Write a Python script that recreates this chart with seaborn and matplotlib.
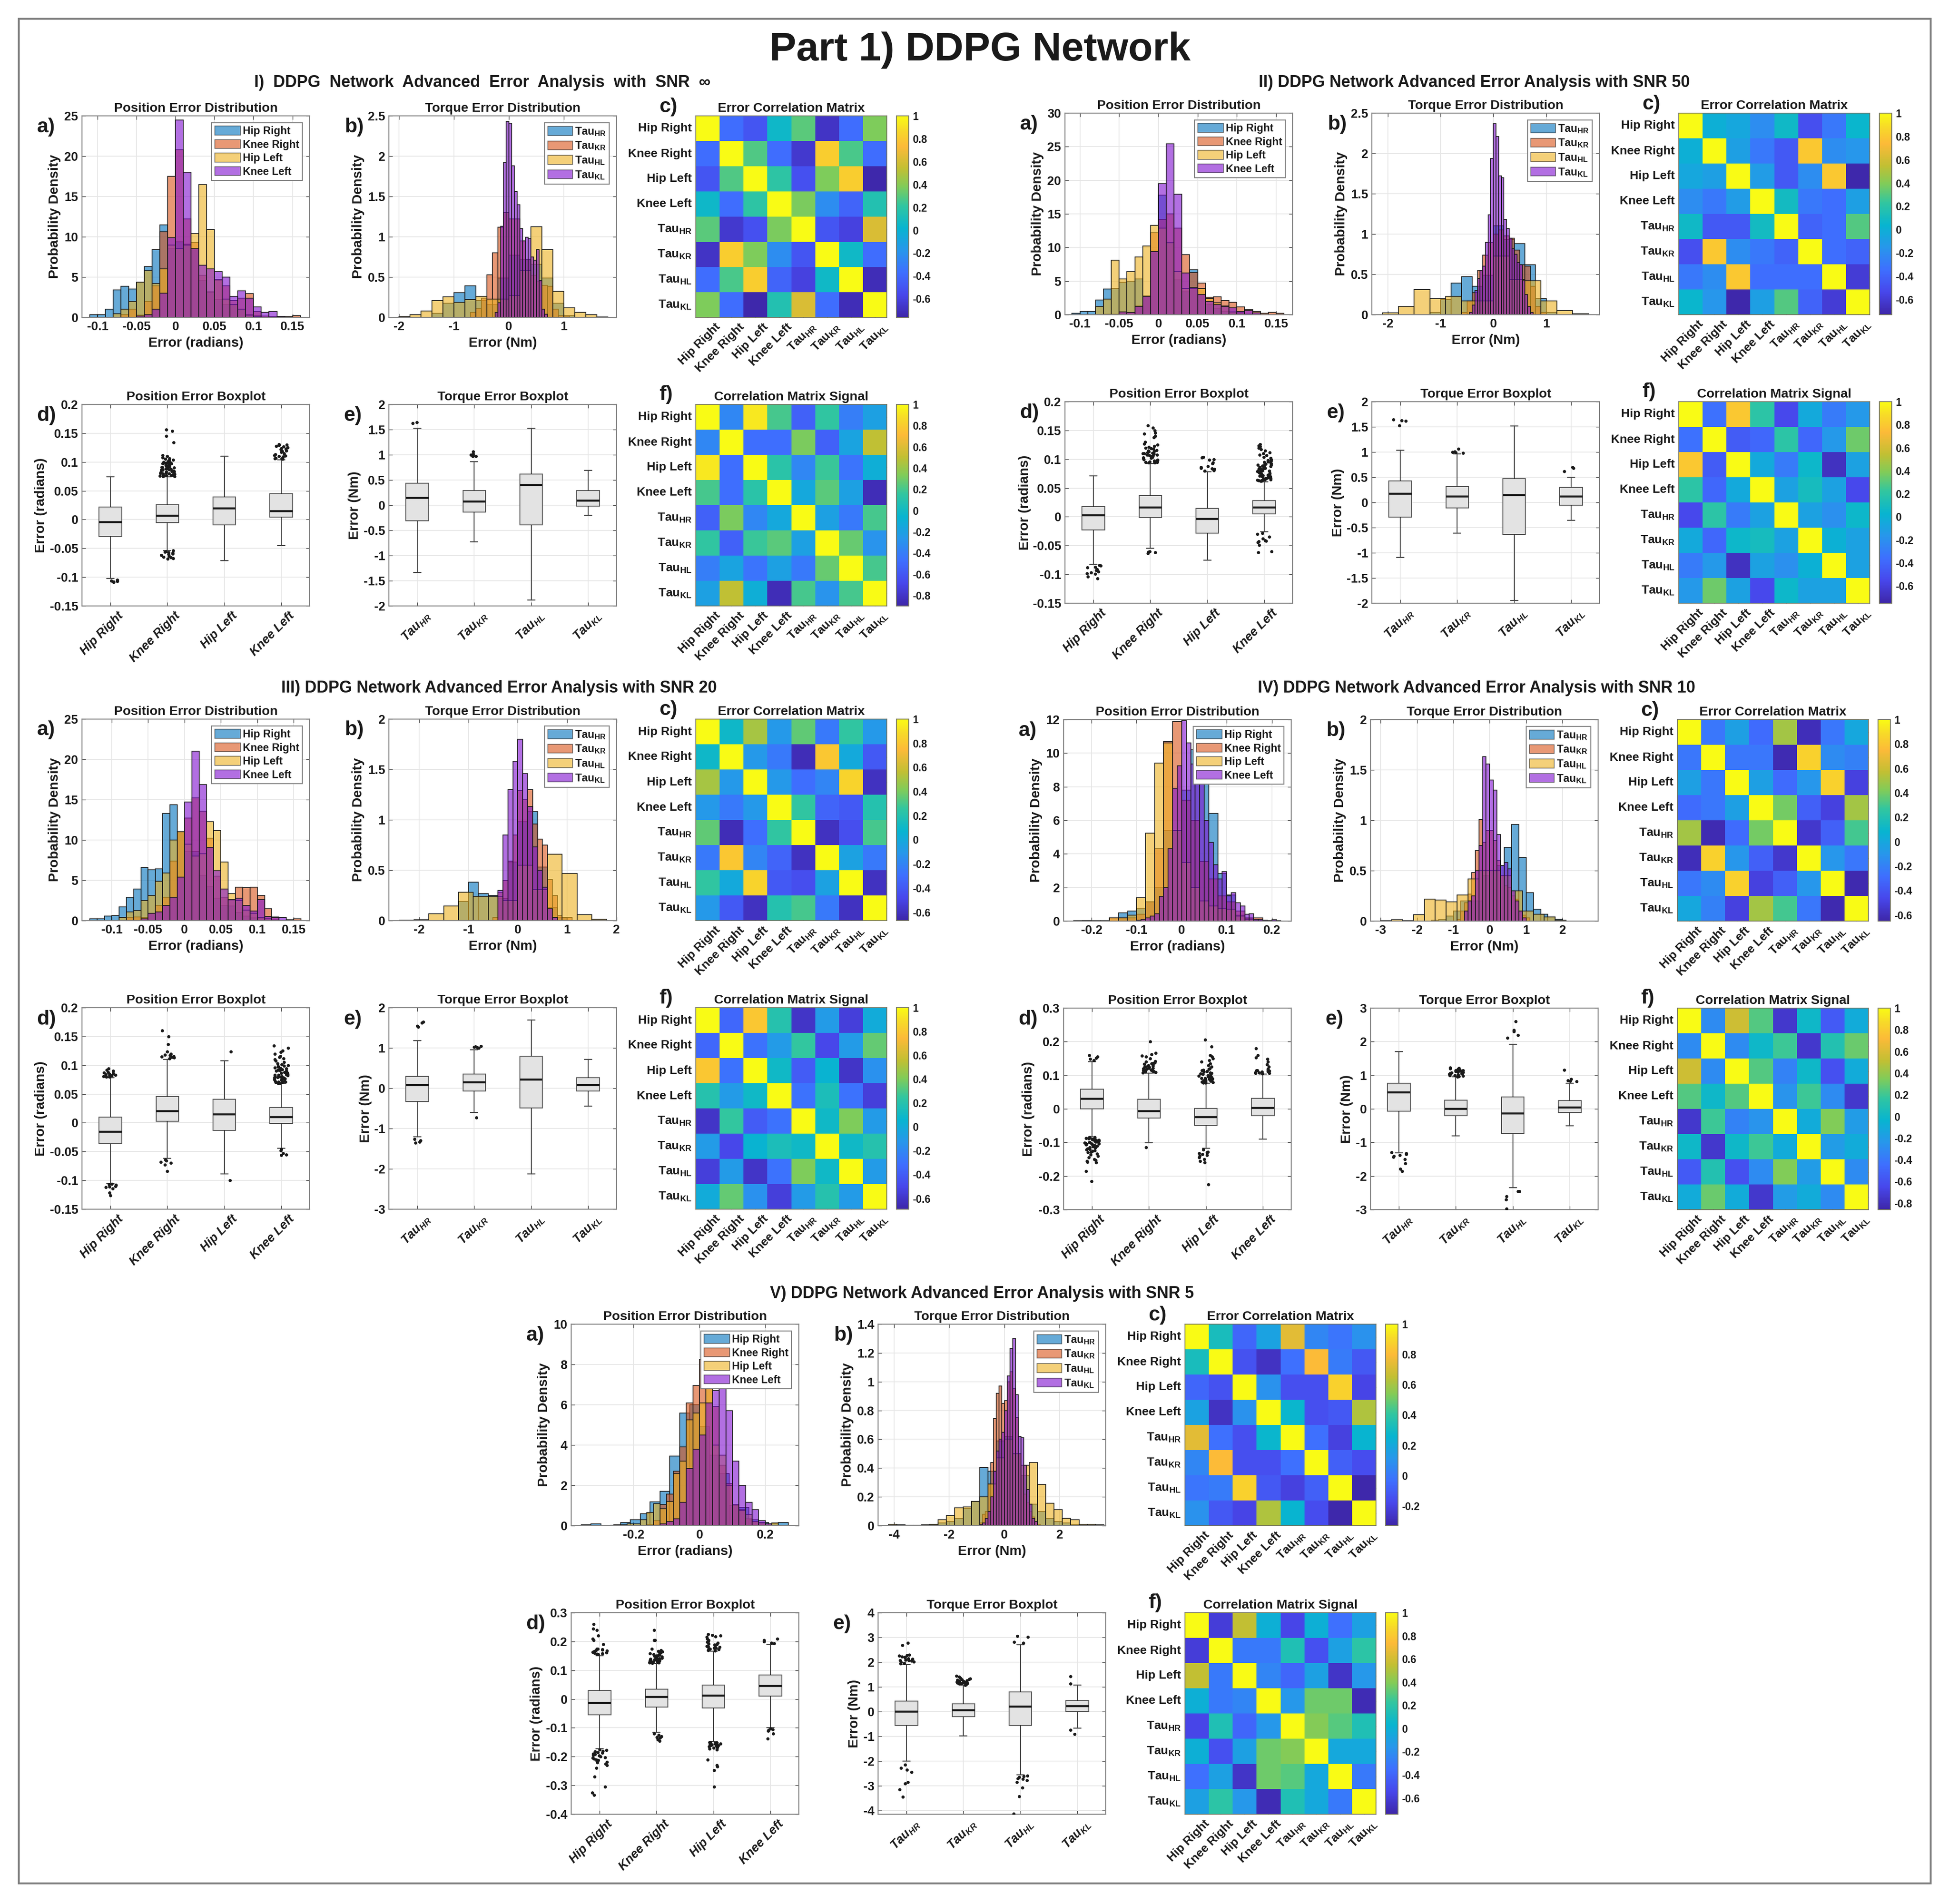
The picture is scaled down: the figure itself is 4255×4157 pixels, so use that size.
import numpy as np
import pandas as pd
import matplotlib
matplotlib.use('Agg')
import matplotlib.pyplot as plt
from matplotlib.colors import LinearSegmentedColormap
from matplotlib.patches import Patch, Rectangle
from matplotlib.transforms import ScaledTranslation
import seaborn as sns

sns.set_theme(style='ticks')
plt.rcParams['font.family'] = ['Liberation Sans', 'DejaVu Sans']
plt.rcParams['font.weight'] = 'bold'
plt.rcParams['axes.labelweight'] = 'bold'
plt.rcParams['axes.titleweight'] = 'bold'
plt.rcParams['text.color'] = '#1a1a1a'
plt.rcParams['mathtext.fontset'] = 'custom'
plt.rcParams['mathtext.rm'] = 'Liberation Sans:bold'
plt.rcParams['mathtext.bf'] = 'Liberation Sans:bold'
plt.rcParams['mathtext.it'] = 'Liberation Sans:italic:bold'
plt.rcParams['mathtext.default'] = 'rm'

W, H = 4255, 4157

joints = ['Hip Right', 'Knee Right', 'Hip Left', 'Knee Left']
taus = ['Tau$_{HR}$', 'Tau$_{KR}$', 'Tau$_{HL}$', 'Tau$_{KL}$']
taus_it = ['Tau$_{\\mathit{HR}}$', 'Tau$_{\\mathit{KR}}$', 'Tau$_{\\mathit{HL}}$', 'Tau$_{\\mathit{KL}}$']
hist_colors = ['#0072BD', '#D95319', '#EDB120', '#8010D0']

parula = LinearSegmentedColormap.from_list('parula', [
    (0, (0.2422, 0.1504, 0.6603)), (0.111, (0.2803, 0.2782, 0.9221)), (0.222, (0.2440, 0.4358, 0.9988)),
    (0.333, (0.1540, 0.5902, 0.9218)), (0.444, (0.0297, 0.7082, 0.8163)), (0.556, (0.1938, 0.7758, 0.6251)),
    (0.65, (0.5044, 0.7993, 0.3480)), (0.74, (0.76, 0.75, 0.20)), (0.85, (0.9892, 0.73, 0.22)),
    (0.93, (0.97, 0.85, 0.16)), (1, (0.9769, 0.9839, 0.0805))])

# histograms: (first bin edge, bin width, heights)
# ---- section I
s1_pos_hr = (-0.11, 0.01, [.35,.35,1.05,3.4,3.85,3.5,4.35,6.3,8.4,11.5,8.5,9.4,9.1,8.5,4.6,3.2,2.2,1.6,1.6,1,.35,.2])
s1_pos_kr = (-0.07, 0.01, [.35,1,.3,2,3.9,10.6,17.5,20.8,12.2,9.3,5.2,3.1,4.6,3.9,2.1,2.4,2.95,.75,.15,.1,.1,.1,.2])
s1_pos_hl = (-0.08, 0.01, [.45,1.05,2,4.4,5.8,4.2,6,9,8.5,9,10.4,16.5,10.9,4.7,2.3,1.6,1,.3,.1])
s1_pos_kl = (-0.05, 0.01, [.15,.35,1.05,3,9.9,24.5,18,8.5,6.5,6,5.7,5,2.6,3.3,2.4,1.3,.65,.75,.1])
s1_trq_hr = (-1.4, 0.2, [.05,.175,.305,.39,.21,.16,.49,.77,.72,.66,.49,.175,.02,0,0,.005])
s1_trq_kr = (-0.7, 0.1, [.06,.11,.24,.53,.8,1.12,1.3,1.22,1.22,.95,.72,.52,.45,.4,.385,.1,.02,.015])
s1_trq_hl = (-2.0, 0.2, [.01,.035,.08,.21,.255,.185,.22,.26,.23,.225,.27,.58,1.125,.84,.325,.12,.065,.035])
s1_trq_kl = (-0.25, 0.05, [.06,.18,1.13,1.92,2.43,2.41,1.88,1.56,1.4,1.1,.95,.995,.975,.75,.71,.84,.46,.1,.04])
# ---- section II
s2_pos_hr = (-0.11, 0.01, [.2,.45,.5,2.2,3.8,3.9,4.8,5,5.3,2.8,9.5,17.8,10.7,5.2,3.4,6.7,2.9,1.5,.9,.5,.3,.2,.1])
s2_pos_kr = (-0.07, 0.01, [.1,.1,.4,.35,1.3,2.7,12.2,14.2,15,12.9,8.9,6.3,4.7,2.6,2.65,2.1,1.85,1.15,.75,.5,.2,.35,.2])
s2_pos_hl = (-0.08, 0.01, [1.2,2.35,8.1,5.3,6.4,8.6,10.2,13.3,12.9,10.7,6.4,3.9,3.9,3.9,2.4,1.8,1.3,.4,.3,.1])
s2_pos_kl = (-0.05, 0.01, [.4,.35,1.2,2.7,9.4,19.5,25.4,17.9,6.2,4,3,2,1.5,1.2,1,.5,.6,.3])
s2_trq_hr = (-1.2, 0.2, [.03,.19,.39,.47,.35,.49,1.1,.93,.88,.62,.2,.03])
s2_trq_kr = (-0.6, 0.1, [.03,.17,.27,.55,.74,.9,1,1.05,.98,.95,.8,.62,.6,.35,.1,.03])
s2_trq_hl = (-2.1, 0.3, [.02,.1,.31,.2,.23,.17,.17,.73,.44,.42,.17,.05,.01])
s2_trq_kl = (-0.45, 0.05, [.03,.12,.3,.45,.55,.6,.9,1.24,1.94,2.37,2.21,1.72,1.7,1.18,1.07,.95,.82,.75,.65,.62,.42,.25,.1,.03])
# ---- section III
s3_pos_hr = (-0.13, 0.01, [.2,.2,.55,.65,1.7,2.9,3.9,6.6,6.3,6.4,13.3,14.4,11,8.6,8.6,5.6,4.2,2.8,1.9,1.8,1,.55,.35,.3,.2,.1])
s3_pos_kr = (-0.08, 0.01, [.4,.45,.4,.9,1.9,2.9,7.4,11,12.7,15.2,13.6,10.2,5.5,2.9,2.5,4.15,4.1,4.15,3.1,1.5,.45,.05,0,.2])
s3_pos_hl = (-0.09, 0.01, [.4,1.1,1.25,2.5,3.1,4.9,5.9,10,11,9.5,8,8.3,12.3,11.2,7.3,3.35,2.5,1.3,.9,.4,.2])
s3_pos_kl = (-0.06, 0.01, [.2,.9,1.1,1.9,2.9,5.4,14.7,21,16.9,9.1,6.2,3.9,2.6,2.8,1.9,1.2,2.6,.5,.4,.4,.1])
s3_trq_hr = (-1.2, 0.2, [.19,.38,.27,.25,.22,.58,.98,1.08,.53,.13,.03])
s3_trq_kr = (-0.5, 0.1, [.03,.28,.4,.59,.85,1.29,1.2,1.3,.96,.81,.75,.41,.25,.05,.03,.03])
s3_trq_hl = (-2.4, 0.3, [.005,.01,.07,.145,.28,.24,.24,.2,.55,.31,.66,.47,.06,.012])
s3_trq_kl = (-0.4, 0.1, [.3,.85,1.3,1.58,1.8,1.46,1.13,.73,.5,.33,.12,.03])
# ---- section IV
s4_pos_hr = (-0.24, 0.02, [.01,.03,0,0,0,.5,.6,.75,1.15,2,5.4,5.4,7.8,10.2,8.2,6.4,2.85,1.55,.35,.15])
s4_pos_kr = (-0.16, 0.02, [.2,.2,.2,.4,1.15,4.3,10.7,11.9,7.2,6,3.55,2.5,1.5,1.15,.6,.2,.18])
s4_pos_hl = (-0.24, 0.02, [.04,.03,.03,.03,.2,.2,.35,1.4,5.25,9.4,10.6,5.4,3.5,2,1.2,.9,.75,.7,.3,.1,.05,.03,.03])
s4_pos_kl = (-0.10, 0.01, [.05,.1,.2,.3,.45,1.47,2,4.3,7.9,9.25,11.95,10.6,9.35,9.55,8.8,6,4.7,3.35,2.5,2.95,1.5,1.7,1.1,.9,.4,.45,.1,.1,.05,.03,.08])
s4_trq_hr = (-1.6, 0.2, [.01,.02,.05,.1,.2,.2,.2,.45,.5,.55,.73,.96,.63,.28,.12,.07,.04,.02])
s4_trq_kr = (-0.9, 0.1, [.02,.1,.18,.27,.48,.7,1.01,.78,.9,.9,.8,.6,.45,.35,.33,.25,.22,.1,.06,.03])
s4_trq_hl = (-3.0, 0.3, [.003,.012,.003,.065,.22,.21,.19,.26,.42,.5,.5,.45,.3,.1,.07,.04,.01])
s4_trq_kl = (-0.7, 0.1, [.1,.2,.25,.5,.75,1.63,1.56,1.4,1.3,.86,.55,.58,.52,.3,.2,.1,.03])
# ---- section V
s5_pos_hr = (-0.36, 0.03, [.04,.08,0,.03,.15,.3,.58,1.18,1.7,3.45,5.6,6,4.9,3.5,2.6,1,.9,.3,.15,.1,.15])
s5_pos_kr = (-0.16, 0.02, [.05,.25,1.05,1.57,2.7,3.9,6.1,6.95,8.25,7,5.9,3,2.1,1,.8,.35,.2,.1])
s5_pos_hl = (-0.26, 0.02, [.05,.05,.1,.1,.3,.65,1.08,.85,1.2,2.6,3.2,5.25,5.6,6.1,7,4,3.5,2,1.05,.75,.55,.2,.15,.1,.13])
s5_pos_kl = (-0.14, 0.02, [.03,.1,.2,.35,1.15,2.85,3.8,4.5,6.1,6.7,7.8,5.7,3.2,2,1.15,.8,.25,.1])
s5_trq_hr = (-3.9, 0.3, [.005,0,0,0,.01,.02,.03,.05,.12,.17,.405,.38,.59,.62,.5,.35,.15,.1,.05,.03,.02,.01])
s5_trq_kr = (-0.9, 0.1, [.02,.08,.1,.29,.44,.745,.92,.97,.85,.87,1,1.07,.95,.75,.5,.35,.22,.16,.1,.06,.03,.01])
s5_trq_hl = (-4.2, 0.3, [.01,0,.002,.003,.005,.01,.04,.07,.125,.13,.17,.2,.29,.47,.6,.5,.42,.44,.285,.155,.11,.05,.04,.01,.008,.005])
s5_trq_kl = (-0.9, 0.1, [.01,.02,.05,.1,.2,.38,.52,.6,.65,.8,1.04,1.23,1.3,.91,.62,.61,.42,.25,.15,.05,.03])

# boxplots: [low whisker, q1, median, q3, high whisker] per joint, then outliers
s1_pos_box = [[-.102,-.029,-.0045,.022,.074], [-.054,-.0055,.0065,.026,.074], [-.071,-.0095,.0195,.039,.11], [-.045,.0045,.015,.045,.104]]
s1_trq_box = [[-1.34,-.31,.145,.44,1.53], [-.73,-.135,.07,.29,.86], [-1.88,-.39,.4,.62,1.53], [-.2,-.02,.095,.29,.69]]
s2_pos_box = [[-.082,-.0225,.003,.0175,.0715], [-.0545,-.001,.0165,.037,.093], [-.075,-.028,-.004,.015,.078], [-.026,.005,.0165,.028,.061]]
s2_trq_box = [[-1.095,-.295,.17,.43,1.04], [-.61,-.105,.115,.32,.965], [-1.945,-.635,.15,.475,1.515], [-.35,-.05,.12,.3,.5]]
s3_pos_box = [[-.1055,-.036,-.0155,.0095,.078], [-.062,.003,.02,.046,.11], [-.089,-.013,.015,.041,.1075], [-.0445,-.0015,.0095,.0265,.068]]
s3_trq_box = [[-1.21,-.33,.08,.29,1.18], [-.6,-.065,.15,.35,.96], [-2.12,-.49,.22,.8,1.69], [-.44,-.065,.08,.26,.72]]
s4_pos_box = [[-.083,0,.03,.058,.14], [-.101,-.027,-.007,.028,.106], [-.117,-.049,-.025,.001,.076], [-.09,-.02,.003,.031,.104]]
s4_trq_box = [[-1.31,-.065,.49,.77,1.7], [-.81,-.21,0,.26,.95], [-2.35,-.74,-.13,.35,1.92], [-.51,-.115,.04,.25,.76]]
s5_pos_box = [[-.172,-.054,-.014,.029,.15], [-.115,-.027,.008,.034,.123], [-.147,-.031,.012,.049,.167], [-.1,.01,.046,.083,.19]]
s5_trq_box = [[-2,-.55,-.01,.43,1.9], [-.98,-.2,.06,.32,1.07], [-2.55,-.55,.2,.79,2.7], [-.67,0,.23,.44,1.07]]

s1_pos_out = [[-.105,-.106,-.107,-.108,-.109],
              [.075,.075,.076,.076,.077,.077,.078,.078,.079,.08,.08,.081,.081,.082,.083,.083,.084,.084,.085,.086,.086,.087,.087,.088,.089,.089,.09,.09,.091,.091,.092,.093,.093,.094,.095,.095,.096,.097,.097,.098,.099,.1,.1,.101,.103,.104,.105,.106,.108,.11,.112,.134,.145,.154,.156,
               -.054,-.055,-.056,-.057,-.058,-.059,-.06,-.062,-.063,-.065,-.066,-.067,-.068],
              [],
              [.105,.106,.106,.107,.109,.11,.111,.112,.113,.115,.117,.119,.12,.122,.123,.124,.125,.127,.128,.129,.13,.131]]
s1_trq_out = [[1.63,1.65], [.97,.97,.98,1,1.02,1.06], [], []]
s2_pos_out = [[-.084,-.085,-.087,-.088,-.091,-.093,-.095,-.097,-.098,-.099,-.104,-.107],
              [.094,.094,.095,.095,.095,.096,.096,.097,.098,.099,.1,.101,.102,.103,.104,.105,.106,.107,.108,.108,.109,.11,.11,.111,.112,.113,.114,.115,.116,.118,.119,.12,.121,.123,.125,.127,.13,.138,.14,.144,.146,.15,.155,.159,
               -.06,-.061,-.062,-.063],
              [.08,.081,.082,.083,.084,.085,.086,.088,.093,.094,.099,.1,.103,.104],
              [.062,.062,.063,.063,.064,.064,.065,.065,.066,.066,.067,.067,.068,.069,.07,.07,.071,.072,.073,.074,.075,.076,.077,.078,.079,.08,.08,.081,.082,.083,.084,.085,.085,.086,.087,.088,.089,.09,.09,.091,.092,.093,.094,.095,.096,.097,.098,.1,.102,.104,.107,.108,.11,.112,.115,.117,.12,.122,.124,.126,
               -.028,-.03,-.035,-.038,-.041,-.042,-.043,-.044,-.049,-.06,-.062]]
s2_trq_out = [[1.53,1.62,1.63,1.65], [.98,.99,1,1.01,1.06], [], [.62,.68,.7]]
s3_pos_out = [[.08,.08,.081,.081,.082,.082,.083,.084,.085,.086,.087,.088,.09,.092,.094,
               -.106,-.107,-.108,-.109,-.11,-.111,-.112,-.114,-.121,-.126],
              [.112,.113,.114,.115,.116,.117,.118,.12,.124,.136,.15,.16,-.064,-.066,-.068,-.07,-.073,-.084],
              [.124,-.1],
              [.069,.069,.07,.07,.071,.071,.072,.073,.074,.075,.076,.077,.078,.078,.079,.08,.08,.081,.082,.083,.083,.084,.085,.086,.086,.087,.088,.089,.09,.09,.091,.092,.093,.094,.095,.096,.097,.098,.099,.1,.101,.103,.105,.108,.11,.112,.114,.116,.12,.123,.125,.13,.134,
               -.046,-.048,-.053,-.055,-.056]]
s3_trq_out = [[1.52,1.55,1.62,1.65,-1.26,-1.3,-1.33,-1.35], [1,1.01,1.02,1.03,1.04,-.73], [], []]
s4_pos_out = [[.145,.148,.152,.155,.16,-.084,-.085,-.086,-.087,-.088,-.089,-.09,-.09,-.091,-.092,-.093,-.094,-.095,-.096,-.097,-.098,-.099,-.1,-.1,-.101,-.102,-.103,-.104,-.105,-.106,-.107,-.108,-.11,-.112,-.114,-.116,-.118,-.12,-.122,-.124,-.126,-.128,-.13,-.133,-.136,-.14,-.145,-.15,-.153,-.156,-.158,-.16,-.185,-.215],
              [.108,.109,.11,.111,.112,.113,.114,.115,.116,.117,.118,.12,.121,.122,.124,.125,.126,.128,.13,.132,.134,.135,.137,.138,.14,.142,.15,.155,.158,.162,.166,.2,-.115],
              [.078,.078,.079,.079,.08,.08,.081,.082,.083,.084,.085,.086,.087,.088,.089,.09,.09,.091,.092,.093,.094,.095,.096,.098,.1,.102,.104,.105,.106,.108,.11,.112,.114,.116,.118,.12,.125,.13,.135,.14,.145,.15,.155,.16,.186,.206,
               -.122,-.128,-.13,-.132,-.135,-.138,-.14,-.145,-.15,-.155,-.16,-.225],
              [.105,.106,.107,.108,.109,.11,.112,.113,.114,.115,.116,.118,.125,.132,.14,.148,.153,.16,.18]]
s4_trq_out = [[-1.3,-1.32,-1.35,-1.38,-1.4,-1.43,-1.5,-1.62,-1.78,-1.85],
              [.96,.97,.98,.99,1,1.01,1.02,1.03,1.04,1.05,1.06,1.07,1.08,1.09,1.1,1.11,1.12,1.13,1.14,1.15,1.16,1.18,1.2,1.22,1.23],
              [2.12,2.2,2.3,2.35,2.6,-2.45,-2.45,-2.6,-2.7,-2.97], [.82,.83,.85,.88,1.16]]
s5_pos_out = [[.155,.157,.158,.16,.161,.163,.165,.166,.168,.17,.171,.172,.174,.175,.19,.205,.21,.22,.24,.245,.26,
               -.175,-.178,-.18,-.182,-.185,-.187,-.19,-.192,-.195,-.197,-.2,-.202,-.205,-.207,-.21,-.212,-.215,-.218,-.22,-.225,-.23,-.24,-.27,-.305,-.325,-.333],
              [.125,.126,.127,.128,.129,.13,.131,.132,.133,.134,.135,.136,.137,.138,.139,.14,.141,.142,.143,.145,.147,.149,.15,.152,.154,.156,.158,.16,.162,.165,.167,.17,.175,.205,.205,.24,
               -.12,-.125,-.13,-.132,-.135,-.14,-.145],
              [.168,.17,.172,.174,.175,.177,.178,.18,.182,.184,.186,.188,.19,.192,.195,.198,.2,.205,.21,.215,.218,.22,.222,.225,
               -.15,-.151,-.152,-.153,-.154,-.155,-.156,-.157,-.158,-.159,-.16,-.161,-.162,-.163,-.165,-.167,-.17,-.172,-.175,-.21,-.23,-.235,-.248,-.305],
              [.193,.195,.2,.205,.21,-.103,-.105,-.108,-.11,-.12,-.138]]
s5_trq_out = [[1.95,1.97,2,2.02,2.05,2.07,2.08,2.1,2.12,2.15,2.18,2.2,2.22,2.25,2.28,2.3,2.68,2.78,-2.15,-2.28,-2.35,-2.45,-2.85,-2.9,-3.15,-3.45],
              [1.08,1.1,1.12,1.13,1.15,1.16,1.17,1.18,1.19,1.2,1.21,1.22,1.23,1.24,1.25,1.27,1.29,1.31,1.33,1.35,1.4,1.45],
              [2.78,2.82,3.02,3.05,-2.6,-2.62,-2.65,-2.7,-2.72,-2.78,-2.85,-3.08,-3.42,-4.13], [1.13,1.42,-.75,-.9]]

# correlation matrices: upper triangle, row by row
s1_err_corr = [[1,-.38,-.5,.05,.3,-.68,-.38,.38], [1,.28,-.38,-.65,.82,.27,-.38], [1,.2,-.52,.38,.82,-.75], [1,.37,-.22,-.42,.15], [1,-.5,-.6,.62], [1,.06,-.38], [1,-.72], [1]]
s1_sig_corr = [[1,-.35,.92,.2,-.55,.15,-.4,-.2], [1,-.48,-.48,.32,-.55,-.18,.5], [1,.12,-.35,.17,-.45,-.1], [1,-.15,.25,-.2,-.85], [1,-.2,-.42,.2], [1,.28,-.28], [1,.2], [1]]
s2_err_corr = [[1,0,-.05,-.2,.08,-.5,-.3,.05], [1,-.1,-.3,-.45,.8,-.2,-.15], [1,-.12,-.45,-.2,.8,-.72], [1,.1,-.3,-.35,-.1], [1,-.4,-.35,.3], [1,-.35,-.4], [1,-.6], [1]]
s2_sig_corr = [[1,-.35,.8,.2,-.55,-.05,-.3,-.15], [1,-.45,-.4,.2,-.4,-.15,.35], [1,-.05,-.3,.05,-.68,-.1], [1,-.1,.1,-.1,-.55], [1,-.1,-.2,.05], [1,0,-.1], [1,-.1], [1]]
s3_err_corr = [[1,.1,.5,-.1,.35,-.25,.25,-.1], [1,-.1,-.25,-.63,.8,0,-.4], [1,-.1,-.3,-.2,.85,-.6], [1,.25,-.35,-.4,.2], [1,-.6,-.45,.3], [1,-.05,-.25], [1,-.6], [1]]
s3_sig_corr = [[1,-.35,.8,.2,-.6,-.1,-.55,0], [1,-.3,-.1,.25,-.5,-.1,.35], [1,.1,-.4,.05,-.6,-.15], [1,-.3,.15,-.3,-.55], [1,.1,.4,-.1], [1,.1,.2], [1,-.1], [1]]
s4_err_corr = [[1,-.25,-.05,-.3,.5,-.6,-.25,0], [1,-.25,-.25,-.62,.85,-.15,-.2], [1,-.05,-.3,-.1,.85,-.5], [1,.4,-.35,-.5,.5], [1,-.55,-.35,.3], [1,-.1,-.25], [1,-.63], [1]]
s4_sig_corr = [[1,-.3,.55,.25,-.75,0,-.55,-.1], [1,-.3,0,.2,-.75,.1,.3], [1,.25,-.35,0,-.6,-.1], [1,-.25,.2,-.3,-.75], [1,-.1,.35,-.2], [1,-.2,-.1], [1,-.3], [1]]
s5_err_corr = [[1,.32,-.07,.17,.73,.05,-.01,.1], [1,-.14,-.27,-.03,.8,.01,-.12], [1,.1,-.15,-.15,.88,-.19], [1,.27,-.15,-.12,.62], [1,-.03,-.21,.26], [1,-.09,-.16], [1,-.32], [1]]
s5_sig_corr = [[1,-.6,.55,0,-.55,0,-.35,-.1], [1,-.3,-.3,.15,-.5,-.1,.2], [1,-.25,-.4,-.1,-.65,-.15], [1,-.15,.35,.35,-.7], [1,.4,.3,.15], [1,-.05,-.05], [1,-.3], [1]]

fig = plt.figure(figsize=(W / 100, H / 100), dpi=100)
np.random.seed(4)  # only for the sideways jitter of the outlier dots


def px_axes(x0, x1, y0, y1):
    return fig.add_axes([x0 / W, 1 - y1 / H, (x1 - x0) / W, (y1 - y0) / H])


def px_text(x, y, s, **kw):
    return fig.text(x / W, 1 - y / H, s, **kw)


def style_axes(ax, title, xlab, ylab):
    for sp in ax.spines.values():
        sp.set_visible(True)
        sp.set_color('#858585')
        sp.set_linewidth(1.6)
    ax.tick_params(axis='both', direction='in', length=6, width=1, color='#404040',
                   top=True, right=True, labelsize=19.5, pad=6, labelcolor='#1a1a1a')
    ax.grid(True, color='#e6e6e6', linewidth=1.3)
    ax.set_axisbelow(True)
    ax.set_title(title, fontsize=20.5, pad=6.5, color='#1a1a1a')
    ax.set_xlabel(xlab, fontsize=21.5, color='#1a1a1a')
    ax.set_ylabel(ylab, fontsize=21.5, color='#1a1a1a')


def draw_hist(ax, series, labels, xlim, xticks, ymax, ystep, title, xlab, leg_size, ylab_off, hlen):
    for (start, width, heights), c in zip(series, hist_colors):
        edges = start + width * np.arange(len(heights) + 1)
        mids = (edges[:-1] + edges[1:]) / 2
        sns.histplot(x=mids, weights=heights, bins=list(edges), color=c, alpha=0.6,
                     edgecolor='#1a1a1a', linewidth=1.2, ax=ax)
    style_axes(ax, title, xlab, 'Probability Density')
    ax.set_xlim(*xlim)
    ax.set_ylim(0, ymax)
    ax.set_xticks(xticks, ['%g' % t for t in xticks])
    yt = np.arange(0, ymax + ystep / 2, ystep)
    ax.set_yticks(yt, ['%g' % round(t, 2) for t in yt])
    ax.xaxis.set_label_coords(0.5, -56 / 440)
    ax.xaxis.label.set_va('center')
    ax.yaxis.set_label_coords(-ylab_off / 497, 0.5)
    ax.yaxis.label.set_va('center')
    handles = [Patch(facecolor=c, alpha=0.6, edgecolor='#1a1a1a', linewidth=1.2) for c in hist_colors]
    leg = ax.legend(handles, labels, loc='upper right', bbox_to_anchor=(1 - 16 / 497, 1 - 15 / 440),
                    borderaxespad=0, fontsize=leg_size, handlelength=hlen, handleheight=0.9,
                    labelspacing=0.28, handletextpad=0.2, borderpad=0.3, fancybox=False,
                    framealpha=1, edgecolor='#858585')
    leg.get_frame().set_linewidth(1.6)


def draw_box(ax, box, out, labels, ylim, yticks, title, ylab, ylab_off):
    rows = [(i, v) for i, vals in enumerate(box) for v in vals]
    df = pd.DataFrame(rows, columns=['joint', 'err'])
    sns.boxplot(data=df, x='joint', y='err', width=0.4, color='#e3e3e3', saturation=1,
                linecolor='#555555', linewidth=1.4, whis=(0, 100), showfliers=False,
                capwidths=0.13, medianprops={'color': 'k', 'linewidth': 3.2},
                whiskerprops={'color': '#111111', 'linewidth': 1.1},
                capprops={'color': '#444444', 'linewidth': 1.6}, ax=ax)
    rows = [(i, v) for i, vals in enumerate(out) for v in vals]
    df_out = pd.DataFrame(rows, columns=['joint', 'err'])
    df_out['joint'] = pd.Categorical(df_out['joint'], categories=[0, 1, 2, 3])
    sns.stripplot(data=df_out, x='joint', y='err', jitter=0.13, color='k', size=5, ax=ax)
    style_axes(ax, title, '', ylab)
    ax.set_xlim(-0.5, 3.5)
    ax.set_ylim(*ylim)
    ax.set_yticks(yticks, ['%g' % t for t in yticks])
    ax.set_xticks(range(4), labels, rotation=45, ha='right', rotation_mode='anchor', style='italic')
    shift = ScaledTranslation(0.15, 0, fig.dpi_scale_trans)
    for lbl in ax.get_xticklabels():
        lbl.set_transform(lbl.get_transform() + shift)
    ax.yaxis.set_label_coords(-ylab_off / 497, 0.5)
    ax.yaxis.label.set_va('center')


def draw_heat(ax, cax, tri, vmin, title):
    mat = np.zeros((8, 8))
    for i, row in enumerate(tri):
        mat[i, i:] = row
        mat[i:, i] = row
    labels = joints + taus
    sns.heatmap(mat, ax=ax, cbar_ax=cax, cmap=parula, vmin=vmin, vmax=1, xticklabels=labels, yticklabels=labels)
    for sp in ax.spines.values():
        sp.set_visible(True)
        sp.set_color('#6e6e5a')
        sp.set_linewidth(1.2)
    ax.tick_params(axis='both', direction='in', length=5, width=1, color='#404040', top=True, right=True,
                   labelsize=19, pad=6, labelcolor='#1a1a1a')
    ax.set_yticklabels(labels, rotation=0)
    ax.set_xticklabels(labels, rotation=45, ha='right', rotation_mode='anchor')
    shift = ScaledTranslation(0.15, 0, fig.dpi_scale_trans)
    for lbl in ax.get_xticklabels():
        lbl.set_transform(lbl.get_transform() + shift)
    ax.set_title(title, fontsize=20.5, pad=6.5, color='#1a1a1a')
    step = np.arange(-1, 1.01, 0.2)
    step = step[step >= vmin - 1e-6]
    cax.set_yticks(step, ['%g' % (round(t, 1) + 0) for t in step])
    cax.tick_params(axis='y', direction='in', length=5, width=1, color='#303030', labelsize=16.5, pad=6,
                    labelcolor='#1a1a1a', left=False, right=True)
    for sp in cax.spines.values():
        sp.set_visible(True)
        sp.set_color('#7a7a66')
        sp.set_linewidth(1.2)


def draw_section(dx, dy, title, title_x, title_y, pos, trq, pos_box, trq_box, pos_out, trq_out,
                 err_corr, sig_corr, vmins, pos_x, trq_x, pos_lim, trq_lim, box_pos, box_trq, box_off):
    px_text(title_x, title_y, title, fontsize=25.7, ha='center', va='center')
    for s, x, y in [('a)', 81, 277), ('b)', 752, 277), ('c)', 1439, 233),
                    ('d)', 80, 908), ('e)', 750, 908), ('f)', 1439, 862)]:
        px_text(x + dx, y + dy, s, fontsize=32, ha='left', va='center')
    ax = px_axes(179 + dx, 676 + dx, 253 + dy, 693 + dy)
    draw_hist(ax, pos, joints, pos_x[0], pos_x[1], pos_lim[0], pos_lim[1],
              'Position Error Distribution', 'Error (radians)', 16.8, 60, 2.4)
    ax = px_axes(849 + dx, 1346 + dx, 253 + dy, 693 + dy)
    draw_hist(ax, trq, taus, trq_x[0], trq_x[1], trq_lim[0], trq_lim[1],
              'Torque Error Distribution', 'Error (Nm)', 17, 67, 2.3)
    ax = px_axes(1519 + dx, 1936 + dx, 253 + dy, 693 + dy)
    cax = px_axes(1957 + dx, 1984 + dx, 253 + dy, 693 + dy)
    draw_heat(ax, cax, err_corr, vmins[0], 'Error Correlation Matrix')
    ax = px_axes(179 + dx, 676 + dx, 883 + dy, 1323 + dy)
    draw_box(ax, pos_box, pos_out, joints, box_pos[0], box_pos[1], 'Position Error Boxplot', 'Error (radians)', box_off[0])
    ax = px_axes(849 + dx, 1346 + dx, 883 + dy, 1323 + dy)
    draw_box(ax, trq_box, trq_out, taus_it, box_trq[0], box_trq[1], 'Torque Error Boxplot', 'Error (Nm)', box_off[1])
    ax = px_axes(1519 + dx, 1936 + dx, 883 + dy, 1323 + dy)
    cax = px_axes(1957 + dx, 1984 + dx, 883 + dy, 1323 + dy)
    draw_heat(ax, cax, sig_corr, vmins[1], 'Correlation Matrix Signal')


fig.add_artist(Rectangle((41 / W, 1 - 4112 / H), (4215 - 41) / W, (4112 - 41) / H, transform=fig.transFigure,
                         fill=False, edgecolor='#808080', linewidth=3))
px_text(2140, 110, 'Part 1) DDPG Network', fontsize=63, ha='center', va='center')

tick_pos_a = [-.1, -.05, 0, .05, .1, .15]
box_y1 = [-.15, -.1, -.05, 0, .05, .1, .15, .2]

draw_section(0, 0, 'I)  DDPG  Network  Advanced  Error  Analysis  with  SNR  \u221e', 1053, 181,
             [s1_pos_hr, s1_pos_kr, s1_pos_hl, s1_pos_kl], [s1_trq_hr, s1_trq_kr, s1_trq_hl, s1_trq_kl],
             s1_pos_box, s1_trq_box, s1_pos_out, s1_trq_out, s1_err_corr, s1_sig_corr, (-.763, -.9),
             ((-.12, .172), tick_pos_a), ((-2.18, 1.96), [-2, -1, 0, 1]), (25, 5), (2.5, .5),
             ((-.15, .2), box_y1), ((-2, 2), [-2, -1.5, -1, -.5, 0, .5, 1, 1.5, 2]), (90, 75))
draw_section(2146, -6, 'II) DDPG Network Advanced Error Analysis with SNR 50', 3219, 181,
             [s2_pos_hr, s2_pos_kr, s2_pos_hl, s2_pos_kl], [s2_trq_hr, s2_trq_kr, s2_trq_hl, s2_trq_kl],
             s2_pos_box, s2_trq_box, s2_pos_out, s2_trq_out, s2_err_corr, s2_sig_corr, (-.73, -.75),
             ((-.119, .171), tick_pos_a), ((-2.3, 2.01), [-2, -1, 0, 1]), (30, 5), (2.5, .5),
             ((-.15, .2), box_y1), ((-2, 2), [-2, -1.5, -1, -.5, 0, .5, 1, 1.5, 2]), (88, 74))
draw_section(0, 1317, 'III) DDPG Network Advanced Error Analysis with SNR 20', 1089, 1503,
             [s3_pos_hr, s3_pos_kr, s3_pos_hl, s3_pos_kl], [s3_trq_hr, s3_trq_kr, s3_trq_hl, s3_trq_kl],
             s3_pos_box, s3_trq_box, s3_pos_out, s3_trq_out, s3_err_corr, s3_sig_corr, (-.67, -.69),
             ((-.141, .172), tick_pos_a), ((-2.61, 2), [-2, -1, 0, 1, 2]), (25, 5), (2, .5),
             ((-.15, .2), box_y1), ((-3, 2), [-3, -2, -1, 0, 1, 2]), (90, 51))
draw_section(2143, 1318, 'IV) DDPG Network Advanced Error Analysis with SNR 10', 3224, 1503,
             [s4_pos_hr, s4_pos_kr, s4_pos_hl, s4_pos_kl], [s4_trq_hr, s4_trq_kr, s4_trq_hl, s4_trq_kl],
             s4_pos_box, s4_trq_box, s4_pos_out, s4_trq_out, s4_err_corr, s4_sig_corr, (-.65, -.86),
             ((-.262, .243), [-.2, -.1, 0, .1, .2]), ((-3.28, 2.98), [-3, -2, -1, 0, 1, 2]), (12, 2), (2, .5),
             ((-.3, .3), [-.3, -.2, -.1, 0, .1, .2, .3]), ((-3, 3), [-3, -2, -1, 0, 1, 2, 3]), (77, 52))
draw_section(1068, 2638, 'V) DDPG Network Advanced Error Analysis with SNR 5', 2144, 2825,
             [s5_pos_hr, s5_pos_kr, s5_pos_hl, s5_pos_kl], [s5_trq_hr, s5_trq_kr, s5_trq_hl, s5_trq_kl],
             s5_pos_box, s5_trq_box, s5_pos_out, s5_trq_out, s5_err_corr, s5_sig_corr, (-.33, -.74),
             ((-.39, .302), [-.2, 0, .2]), ((-4.58, 3.67), [-4, -2, 0, 2]), (10, 2), (1.4, .2),
             ((-.4, .3), [-.4, -.3, -.2, -.1, 0, .1, .2, .3]), ((-4.15, 4), [-4, -3, -2, -1, 0, 1, 2, 3, 4]), (76, 52))

fig.savefig('out.png', dpi=100, facecolor='white')
